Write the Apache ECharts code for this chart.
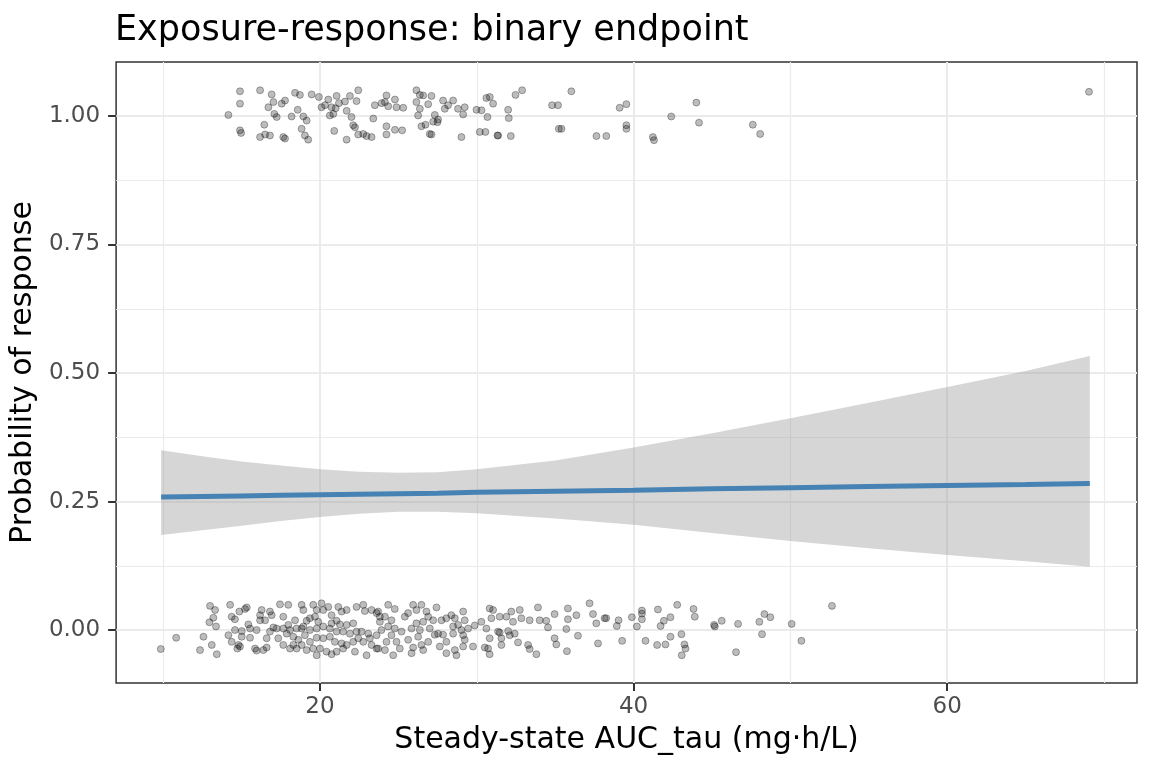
<!DOCTYPE html>
<html>
<head>
<meta charset="utf-8">
<title>Exposure-response: binary endpoint</title>
<script src="https://cdn.jsdelivr.net/npm/echarts@6/dist/echarts.min.js"></script>
<style>
  html, body { margin: 0; padding: 0; background: #fff; }
  #main { width: 1152px; height: 768px; }
</style>
</head>
<body>
<div id="main"></div>
<script>
// axis ticks
const xTicks = [20, 40, 60];
const yTicks = [0, 0.25, 0.5, 0.75, 1];

// responders (jittered around 1)
const highAuc = [14.9, 16.18, 16.92, 18.41, 18.72, 19.47, 19.93, 20.53, 21.06, 21.91, 22.44, 22.33, 21.59, 21.21, 20.1, 20.32, 20.74, 17.77, 17.56, 16.71,
  17.03, 14.9, 14.16, 17.09, 17.24, 18.19, 18.58, 18.94, 19.15, 20.63, 20.85, 21.0, 21.7, 22.01, 23.4, 23.5, 23.93, 24.24, 24.14, 24.35,
  24.78, 24.88, 25.31, 26.15, 26.37, 26.58, 27.11, 26.15, 26.9, 26.26, 26.37, 27.32, 27.53, 27.96, 27.85, 28.49, 28.17, 28.8, 29.23, 29.13,
  29.98, 30.3, 30.61, 30.83, 31.04, 30.68, 16.45, 14.9, 14.97, 16.18, 16.5, 16.81, 17.66, 17.77, 18.83, 19.04, 19.25, 20.91, 21.7, 22.12,
  22.23, 22.44, 22.76, 22.97, 23.29, 24.24, 24.24, 24.78, 25.24, 26.47, 26.73, 27.0, 27.11, 27.22, 27.49, 29.02, 30.19, 30.55, 31.36,
  32.47, 32.89, 32.0, 32.04, 34.8, 35.18, 36.03, 39.11, 39.54, 31.32, 32.17, 35.23, 35.4, 37.63, 38.26, 39.54, 39.54, 41.23, 41.3, 42.4,
  44.0, 44.17, 47.6, 48.07, 69.04];
const highY = [1.048, 1.05, 1.042, 1.045, 1.041, 1.042, 1.037, 1.032, 1.039, 1.039, 1.05, 1.029, 1.028, 1.025, 1.017, 1.021, 1.017, 1.03, 1.024, 1.017,
  1.027, 1.024, 1.002, 1.004, 0.998, 0.999, 1.012, 0.999, 0.991, 1.001, 1.004, 1.015, 1.01, 0.998, 0.995, 1.021, 1.025, 1.04, 1.027, 1.019,
  1.032, 1.017, 1.016, 1.05, 1.041, 1.04, 1.039, 1.027, 1.023, 1.001, 1.014, 1.002, 0.993, 1.014, 1.03, 1.03, 1.021, 1.014, 1.017, 1.003,
  1.012, 1.011, 1.035, 1.037, 1.024, 0.998, 0.983, 0.972, 0.967, 0.959, 0.964, 0.962, 0.959, 0.956, 0.975, 0.962, 0.954, 0.971, 0.954, 0.982,
  0.978, 0.964, 0.965, 0.961, 0.959, 0.98, 0.964, 0.973, 0.972, 0.98, 0.983, 0.965, 0.964, 0.989, 0.988, 0.959, 0.969, 0.969, 0.962,
  1.041, 1.05, 1.012, 0.996, 1.021, 1.021, 1.048, 1.016, 1.023, 0.962, 0.961, 0.975, 0.975, 0.961, 0.961, 0.982, 0.975, 0.959, 0.953, 0.999,
  1.026, 0.987, 0.983, 0.965, 1.047];

// non-responders (jittered around 0)
const lowAuc = [9.85, 10.83, 12.57, 12.35, 13.1, 13.42, 12.99, 13.31, 13.2, 12.95, 13.37, 14.27, 14.37, 14.58, 14.86, 15.22, 15.33, 15.43, 14.16, 14.37,
  14.58, 14.8, 15.01, 15.54, 14.73, 14.9, 15.86, 15.96, 16.39, 16.6, 16.28, 16.18, 16.18, 16.5, 16.81, 16.92, 17.45, 17.98, 17.66, 18.41,
  18.83, 18.94, 19.57, 19.79, 19.68, 19.36, 19.15, 20.1, 20.21, 20.53, 20.74, 21.06, 21.17, 21.38, 21.7, 22.33, 22.76, 22.86, 23.29, 23.61,
  23.82, 22.12, 22.33, 21.91, 21.48, 21.06, 20.63, 20.21, 19.79, 19.36, 18.94, 18.51, 18.09, 17.66, 17.24, 16.81, 16.6, 15.96, 17.34, 17.88,
  18.3, 18.62, 19.04, 19.36, 19.79, 20.21, 20.63, 20.95, 21.38, 21.7, 22.12, 22.44, 22.76, 23.08, 23.29, 23.61, 17.66, 18.09, 18.51, 18.83,
  19.15, 19.57, 20.0, 20.42, 20.74, 21.06, 21.48, 22.23, 22.97, 19.79, 18.3, 23.18, 22.65, 21.7, 21.27, 20.74, 19.89, 18.83, 17.98, 17.03,
  15.54, 15.01,
  24.35, 24.77, 23.71, 24.14, 23.82, 24.56, 25.41, 25.62, 25.94, 26.47, 26.15, 26.79, 26.9, 27.43, 27.22, 27.75, 28.06, 28.38, 28.6, 29.13,
  29.23, 28.81, 29.45, 29.87, 30.29, 30.61, 30.82, 31.04, 30.93, 31.46, 31.89, 32.2, 32.31, 32.74, 32.84, 33.37, 33.9, 34.01, 34.43, 34.54,
  34.96, 35.81, 35.81, 36.35, 37.19, 37.41, 37.62, 38.15, 35.71, 34.96, 35.07, 36.45, 37.73, 35.75, 33.8, 33.27, 33.37, 32.63, 32.42, 32.1,
  31.57, 31.57, 31.36, 30.82, 30.72, 30.51, 30.82, 29.76, 29.23, 29.13, 29.13, 28.6, 28.7, 28.06, 27.64, 27.53, 27.32, 27.85, 28.49, 28.06,
  26.9, 26.47, 26.58, 25.94, 25.84, 26.26, 26.37, 25.84, 25.2, 24.77, 24.35, 23.92, 23.61, 23.71, 24.24, 24.14, 24.67, 24.88, 25.09, 24.56,
  25.62, 26.15, 26.58, 27.0, 28.49, 29.02, 31.46, 32.0,
  38.25, 38.93, 39.04, 39.27, 39.89, 40.21, 40.53, 40.53, 40.53, 40.76, 41.55, 41.5, 41.72, 41.93, 42.03, 42.35, 42.35, 42.78, 43.05, 43.24,
  43.31, 43.07, 43.82, 43.9, 45.13, 45.18, 45.62, 46.53, 46.66, 48.02, 48.19, 48.34, 48.72, 50.08, 50.7, 52.65];
const lowY = [-0.037, -0.015, -0.013, -0.039, -0.029, -0.047, 0.047, 0.039, 0.024, 0.015, 0.007, 0.049, 0.026, 0.021, 0.036, 0.041, 0.044, 0.011, -0.01, -0.023,
  0.0, -0.029, -0.002, -0.015, -0.036, -0.032, -0.036, -0.04, -0.039, -0.034, 0.039, 0.029, 0.019, 0.019, 0.036, 0.029, 0.05, 0.049, 0.026, 0.019,
  0.049, 0.039, 0.049, 0.039, 0.026, 0.023, 0.018, 0.052, 0.039, 0.045, 0.029, 0.018, 0.045, 0.036, 0.039, 0.045, 0.049, 0.037, 0.039, 0.033,
  0.026, 0.013, -0.003, -0.007, -0.003, -0.003, 0.003, 0.007, 0.003, 0.0, 0.007, 0.003, 0.0, 0.003, 0.003, -0.003, -0.016, 0.0, -0.016, -0.007,
  -0.013, -0.019, -0.01, -0.023, -0.015, -0.016, -0.013, -0.023, -0.026, -0.029, -0.023, -0.016, -0.023, -0.007, -0.029, -0.036, -0.029, -0.036, -0.036, -0.029,
  -0.039, -0.036, -0.036, -0.042, -0.047, -0.042, -0.036, -0.042, -0.049, -0.049, -0.029, -0.016, -0.003, 0.01, 0.011, 0.013, 0.016, 0.003, 0.01, 0.005,
  0.003, -0.013,
  0.049, 0.041, 0.036, 0.026, 0.016, 0.019, 0.026, 0.033, 0.049, 0.049, 0.039, 0.036, 0.026, 0.044, 0.019, 0.019, 0.023, 0.029, 0.023, 0.036,
  0.019, 0.01, 0.003, 0.009, 0.016, 0.003, 0.042, 0.039, 0.023, 0.026, 0.026, 0.036, 0.016, 0.039, 0.023, 0.019, 0.044, 0.019, 0.018, 0.005,
  0.031, 0.042, 0.021, 0.029, 0.052, 0.031, 0.013, 0.023, 0.002, -0.016, -0.028, -0.011, -0.026, -0.041, -0.047, -0.029, -0.037, -0.024, -0.007, -0.01,
  -0.016, -0.029, -0.003, -0.016, -0.036, -0.034, -0.047, -0.032, -0.019, -0.01, -0.032, -0.039, -0.049, -0.045, -0.032, -0.007, -0.009, -0.009, -0.007, -0.023,
  -0.023, -0.029, -0.039, -0.034, -0.045, -0.013, 0.0, 0.003, -0.003, 0.003, 0.007, 0.0, -0.01, -0.036, -0.023, -0.039, -0.049, -0.023, -0.036, -0.01,
  -0.019, 0.013, 0.016, 0.003, 0.007, 0.0, -0.005, -0.002,
  0.023, 0.008, 0.019, -0.021, 0.025, 0.007, 0.038, 0.032, 0.021, -0.021, 0.04, -0.029, 0.008, 0.018, -0.028, 0.025, -0.013, 0.049, -0.008, -0.028,
  -0.036, -0.049, 0.041, 0.026, 0.01, 0.007, 0.018, -0.043, 0.012, 0.016, -0.008, 0.031, 0.025, 0.012, -0.021, 0.047];

// logistic fit with 95% band
const fitAuc = [9.87, 12.5, 15, 17.5, 20, 22.5, 25, 27.5, 30, 35, 40, 45, 50, 55, 60, 65, 69.09];
const fitProb = [0.259, 0.26, 0.261, 0.262, 0.263, 0.264, 0.265, 0.266, 0.268, 0.27, 0.272, 0.275, 0.277, 0.279, 0.281, 0.283, 0.285];
const fitUpper = [0.35, 0.338, 0.328, 0.32, 0.313, 0.308, 0.306, 0.307, 0.313, 0.33, 0.355, 0.383, 0.412, 0.442, 0.473, 0.504, 0.533];
const fitLower = [0.185, 0.194, 0.203, 0.212, 0.22, 0.226, 0.23, 0.23, 0.227, 0.217, 0.205, 0.189, 0.173, 0.159, 0.146, 0.134, 0.123];

let myChart = echarts.init(document.getElementById('main'), null, { renderer: 'canvas' });

function pairs(xs, ys) {
    return xs.map((x, i) => [x, ys[i]]);
}

// whole confidence ribbon drawn as one polygon through the axis scales
function renderBand(params, api) {
    if (params.dataIndex !== 0) {
        return null;
    }
    let upper = fitAuc.map((x, i) => api.coord([x, fitUpper[i]]));
    let lower = fitAuc.map((x, i) => api.coord([x, fitLower[i]])).reverse();
    return {
        type: 'polygon',
        shape: { points: upper.concat(lower) },
        style: { fill: 'rgba(153,153,153,0.4)' },
        silent: true
    };
}

let pointStyle = {
    color: 'rgba(0,0,0,0.33)',
    borderColor: 'rgba(0,0,0,0.38)',
    borderWidth: 1
};

let option = {
    animation: false,
    backgroundColor: '#ffffff',
    textStyle: { fontFamily: 'DejaVu Sans' },
    title: {
        text: 'Exposure-response: binary endpoint',
        left: 110,
        top: 8,
        textStyle: { fontSize: 35, fontWeight: 'normal', color: '#000', fontFamily: 'DejaVu Sans' }
    },
    grid: {
        left: 116, right: 15, top: 62, bottom: 85,
        show: true,
        borderColor: '#333333',
        borderWidth: 1.5,
        backgroundColor: 'transparent'
    },
    xAxis: {
        type: 'value',
        min: 7, max: 72.1,
        minInterval: 20, maxInterval: 20,
        name: 'Steady-state AUC_tau (mg·h/L)',
        nameLocation: 'middle',
        nameGap: 42,
        nameTextStyle: { fontSize: 30, color: '#000', fontFamily: 'DejaVu Sans' },
        axisLine: { show: false, onZero: false },
        axisTick: { show: true, length: 8, lineStyle: { color: '#333', width: 2 }, customValues: xTicks },
        axisLabel: { customValues: xTicks, fontSize: 23, color: '#4d4d4d', margin: 13, fontFamily: 'DejaVu Sans' },
        splitLine: { show: true, lineStyle: { color: '#ebebeb', width: 2 } },
        minorTick: { show: false, splitNumber: 2 },
        minorSplitLine: { show: true, lineStyle: { color: '#ebebeb', width: 1.2 } }
    },
    yAxis: {
        type: 'value',
        min: -0.103, max: 1.105,
        minInterval: 0.25, maxInterval: 0.25,
        name: 'Probability of response',
        nameLocation: 'middle',
        nameGap: 70,
        nameRotate: 90,
        nameTextStyle: { fontSize: 30, color: '#000', fontFamily: 'DejaVu Sans' },
        axisLine: { show: false, onZero: false },
        axisTick: { show: true, length: 8, lineStyle: { color: '#333', width: 2 }, customValues: yTicks },
        axisLabel: {
            customValues: yTicks, fontSize: 23, color: '#4d4d4d', margin: 16, fontFamily: 'DejaVu Sans',
            formatter: v => v.toFixed(2)
        },
        splitLine: { show: true, lineStyle: { color: '#ebebeb', width: 2 } },
        minorTick: { show: false, splitNumber: 2 },
        minorSplitLine: { show: true, lineStyle: { color: '#ebebeb', width: 1.2 } }
    },
    series: [
        {
            type: 'scatter',
            data: pairs(lowAuc, lowY),
            symbolSize: 7,
            itemStyle: pointStyle,
            silent: true
        },
        {
            type: 'scatter',
            data: pairs(highAuc, highY),
            symbolSize: 7,
            itemStyle: pointStyle,
            silent: true
        },
        {
            type: 'custom',
            renderItem: renderBand,
            data: pairs(fitAuc, fitProb),
            clip: true,
            silent: true,
            z: 3
        },
        {
            type: 'line',
            data: pairs(fitAuc, fitProb),
            symbol: 'none',
            lineStyle: { color: '#4682b4', width: 5 },
            silent: true,
            z: 5
        }
    ]
};
myChart.setOption(option);
</script>
</body>
</html>
